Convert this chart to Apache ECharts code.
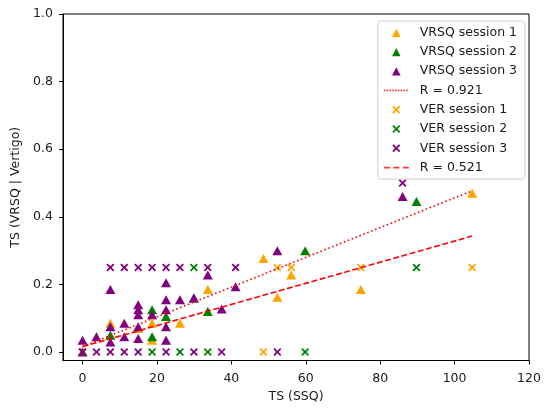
<!DOCTYPE html>
<html>
<head>
<meta charset="utf-8">
<script src="https://cdn.jsdelivr.net/npm/echarts@6/dist/echarts.min.js"></script>
<style>html,body{margin:0;padding:0;background:#fff}#c{width:553px;height:410px}</style>
</head>
<body>
<div id="c"></div>
<script>
// ---- data (x = TS SSQ, y = TS VRSQ | Vertigo) ----
const vrsq1 = [[7.48,0.085],[14.96,0.07],[18.7,0.085],[18.7,0.035],[26.18,0.085],[33.66,0.185],[48.62,0.277],[52.36,0.162],[56.1,0.228],[74.8,0.185],[104.72,0.47]];
const vrsq2 = [[7.48,0.05],[18.7,0.125],[18.7,0.045],[22.44,0.105],[29.92,0.16],[33.66,0.12],[59.84,0.30],[89.76,0.445]];
const vrsq3 = [[0,0],[0,0.035],[3.74,0.045],[7.48,0.185],[7.48,0.075],[7.48,0.03],[11.22,0.085],[11.22,0.045],[14.96,0.14],[14.96,0.125],[14.96,0.11],[14.96,0.075],[14.96,0.04],[18.7,0.11],[22.44,0.205],[22.44,0.155],[22.44,0.125],[22.44,0.075],[22.44,0.035],[26.18,0.155],[29.92,0.16],[33.66,0.228],[37.4,0.127],[41.14,0.193],[52.36,0.30],[86.02,0.46]];
const ver1 = [[0,0],[48.62,0],[52.36,0.25],[56.1,0.25],[74.8,0.25],[104.72,0.25]];
const ver2 = [[0,0],[18.7,0],[26.18,0],[29.92,0.25],[33.66,0],[59.84,0],[89.76,0.25]];
const ver3 = [[0,0],[3.74,0],[7.48,0],[11.22,0],[14.96,0],[22.44,0],[29.92,0],[37.4,0],[52.36,0],[7.48,0.25],[11.22,0.25],[14.96,0.25],[18.7,0.25],[22.44,0.25],[26.18,0.25],[33.66,0.25],[41.14,0.25],[86.02,0.5]];
const fitX = [0, 104.72];
const fitVRSQ = [0.016, 0.477];
const fitVER = [0.016, 0.343];
const xTicks = [0,20,40,60,80,100,120];
const yTicks = [0,0.2,0.4,0.6,0.8,1.0];
const names = ['VRSQ session 1','VRSQ session 2','VRSQ session 3','R = 0.921','VER session 1','VER session 2','VER session 3','R = 0.521'];

const ORANGE='#FFA500', GREEN='#008000', PURPLE='#800080', RED='#FF0000';
const XPATH='path://M0,1.6L1.6,0L5,3.4L8.4,0L10,1.6L6.6,5L10,8.4L8.4,10L5,6.6L1.6,10L0,8.4L3.4,5Z';
// legend icons drawn inside a 31x12 box (symbol in the first 25px) so they keep their natural size
const BOX='M0,0L0.01,0L0,0.01Z M31,12L30.99,12L31,11.99Z ';
const TRI_ICON='path://'+BOX+'M8.2,10.5L12.5,2.2L16.8,10.5Z';
const X_ICON='path://'+BOX+'M8.5,3.3L9.8,2L12.5,4.7L15.2,2L16.5,3.3L13.8,6L16.5,8.7L15.2,10L12.5,7.3L9.8,10L8.5,8.7L11.2,6Z';
function segIcon(len,gap){let p=BOX;for(let x=0;x<25;x+=len+gap){const e=Math.min(25,x+len);p+='M'+x+',5.2L'+e+',5.2L'+e+',6.8L'+x+',6.8Z ';}return 'path://'+p;}
const DOT_ICON=segIcon(1.5,1.3);
const DASH_ICON=segIcon(6,3.5);
const FONT='DejaVu Sans';
const TXT='#1a1a1a';
const FS=12.5;

function tri(name,data,color){return {name,type:'scatter',data,symbol:'triangle',symbolSize:[10,9],itemStyle:{color,opacity:1},z:2};}
function crs(name,data,color){return {name,type:'scatter',data,symbol:XPATH,symbolSize:8,itemStyle:{color,opacity:1},z:3};}
function fit(name,ys,type){return {name,type:'line',data:fitX.map((x,i)=>[x,ys[i]]),symbol:'none',lineStyle:{color:RED,width:1.6,type,cap:'butt'},itemStyle:{color:RED},z:4};}
function legendOnly(name){return {name,type:'scatter',data:[],itemStyle:{color:RED}};}

const chart = echarts.init(document.getElementById('c'),null,{renderer:'canvas'});
chart.setOption({
  animation:false,
  textStyle:{fontFamily:FONT},
  grid:{left:63,right:24,top:14,bottom:49.5,show:true,borderColor:'#000',borderWidth:1,backgroundColor:'transparent'},
  xAxis:{type:'value',min:-5.25,max:120,name:'TS (SSQ)',nameLocation:'middle',nameGap:30,
    nameTextStyle:{fontFamily:FONT,fontSize:FS,color:TXT},
    axisLine:{show:true,onZero:false,lineStyle:{color:'#000'}},
    axisTick:{show:true,inside:false,length:4,customValues:xTicks,lineStyle:{color:'#000'}},
    axisLabel:{customValues:xTicks,margin:12,fontFamily:FONT,fontSize:FS,color:TXT,formatter:v=>String(v)},
    splitLine:{show:false}},
  yAxis:{type:'value',min:-0.025,max:1.0,name:'TS (VRSQ | Vertigo)',nameLocation:'middle',nameGap:36,nameRotate:90,
    nameTextStyle:{fontFamily:FONT,fontSize:FS,color:TXT},
    axisLine:{show:true,onZero:false,lineStyle:{color:'#000'}},
    axisTick:{show:true,inside:false,length:4,customValues:yTicks,lineStyle:{color:'#000'}},
    axisLabel:{customValues:yTicks,margin:10,fontFamily:FONT,fontSize:FS,color:TXT,formatter:v=>v.toFixed(1)},
    splitLine:{show:false}},
  legend:{orient:'vertical',align:'left',right:28,top:21,padding:[5,8,5,6],itemGap:6.3,itemWidth:31,itemHeight:12,
    backgroundColor:'rgba(255,255,255,0.8)',borderColor:'#d0d0d0',borderWidth:1,borderRadius:3,
    textStyle:{fontFamily:FONT,fontSize:FS,color:TXT,align:'left'},
    data:[
      {name:names[0],icon:TRI_ICON},{name:names[1],icon:TRI_ICON},{name:names[2],icon:TRI_ICON},
      {name:names[3],icon:DOT_ICON},
      {name:names[4],icon:X_ICON},{name:names[5],icon:X_ICON},{name:names[6],icon:X_ICON},
      {name:names[7],icon:DASH_ICON}
    ]},
  series:[
    legendOnly(names[3]),
    legendOnly(names[7]),
    tri(names[0],vrsq1,ORANGE),
    tri(names[1],vrsq2,GREEN),
    tri(names[2],vrsq3,PURPLE),
    fit(names[3],fitVRSQ,[1.6,2.6]),
    crs(names[4],ver1,ORANGE),
    crs(names[5],ver2,GREEN),
    crs(names[6],ver3,PURPLE),
    fit(names[7],fitVER,[5.9,2.6])
  ]
});
</script>
</body>
</html>
